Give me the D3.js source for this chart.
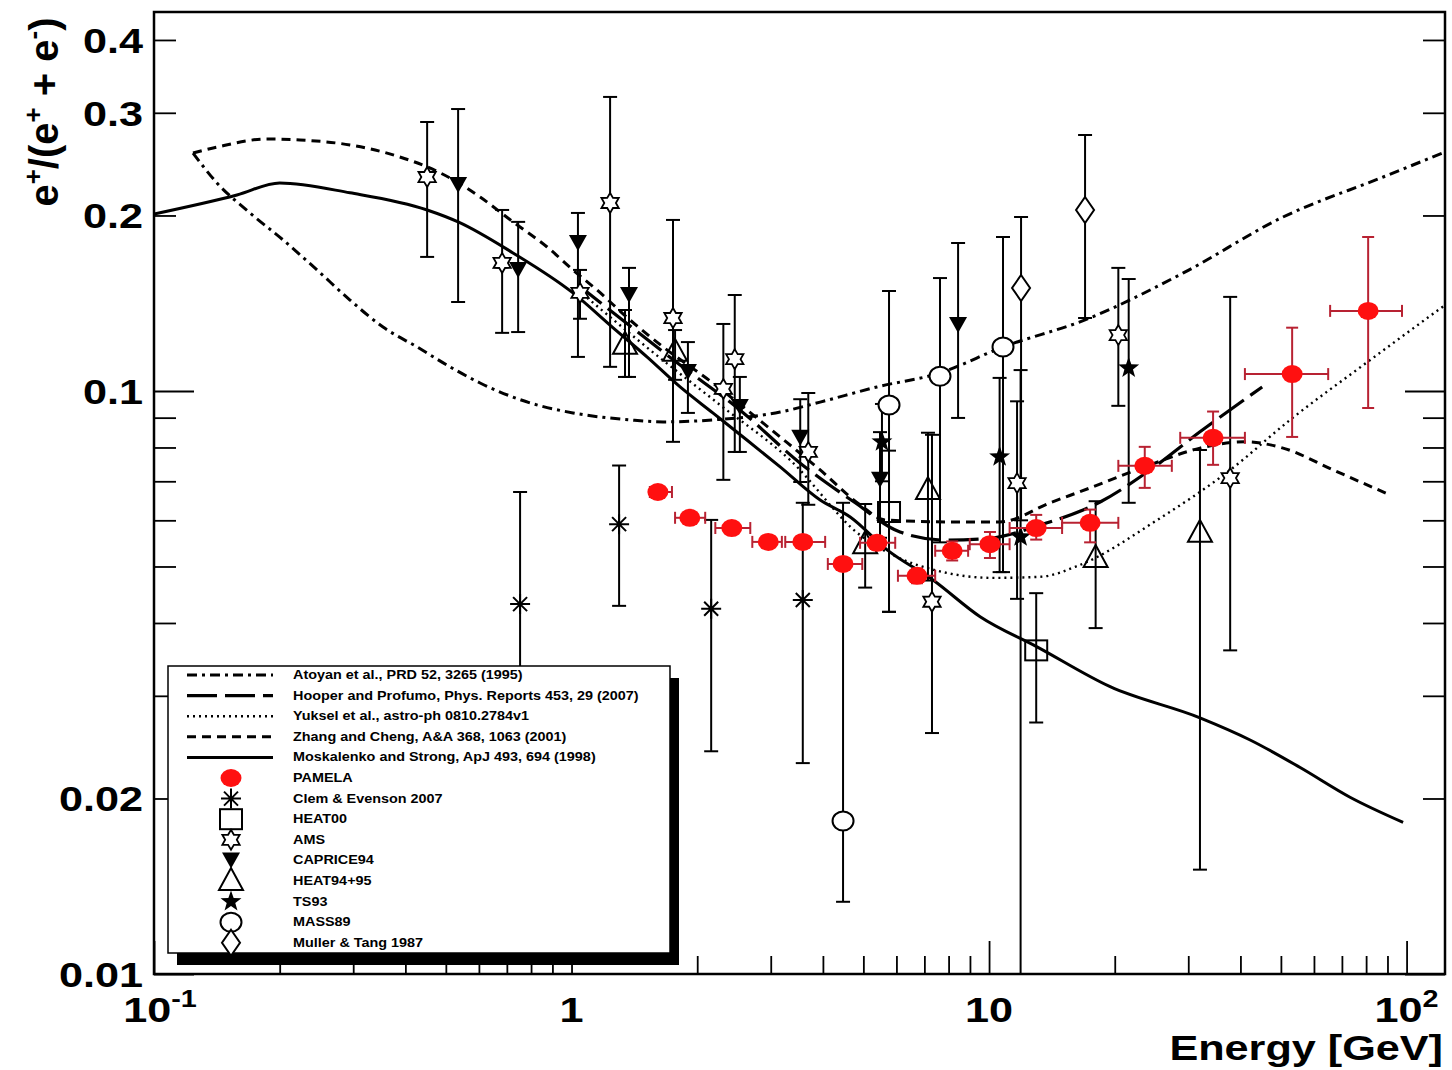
<!DOCTYPE html>
<html>
<head>
<meta charset="utf-8">
<script src="https://cdn.jsdelivr.net/npm/d3@7"></script>
<style>
  body { margin: 0; background: #fff; }
  text { font-family: "Liberation Sans", Arial, Helvetica, sans-serif; font-weight: bold; fill: #000; }
</style>
</head>
<body>
<script>
var w = 1452;
var h = 1070;
var plotL = 154, plotR = 1445, plotT = 12, plotB = 974;

// theory curves, [energy GeV, e+/(e+ + e-)]
var atoyan = [[0.124,0.2559],[0.1415,0.2274],[0.1698,0.202],[0.2037,0.1816],[0.2457,0.1613],[0.2947,0.1432],
  [0.3536,0.1287],[0.4266,0.119],[0.5117,0.11],[0.604,0.1032],[0.7955,0.0954],[1.008,0.0917],[1.38,0.0892],
  [1.657,0.0885],[2.18,0.0892],[3.16,0.092],[3.94,0.0957],[5.39,0.1016],[7.63,0.1074],[10.8,0.119],
  [16.98,0.1324],[29.2,0.1594],[50.6,0.1988],[87.9,0.2328],[123.6,0.257]];
var hooper = [[1.036,0.152],[1.306,0.1334],[1.82,0.1108],[2.53,0.0928],[3.53,0.0752],[4.78,0.0643],
  [6.12,0.0573],[7.85,0.0555],[10.05,0.0559],[13.25,0.0589],[18.45,0.0645],[24.3,0.0732],[32.0,0.0851],[45.1,0.1016]];
var yuksel = [[1.036,0.149],[1.542,0.1176],[2.27,0.0946],[3.34,0.0761],[4.91,0.0566],[5.89,0.0523],
  [7.76,0.0489],[10.2,0.0478],[13.25,0.048],[16.5,0.0503],[25.3,0.0601],[37.8,0.0732],[52.6,0.0892],
  [81.8,0.113],[123.6,0.1404]];
var zhang = [[0.124,0.2559],[0.1415,0.262],[0.1865,0.2705],[0.2237,0.2695],[0.2947,0.2642],[0.388,0.252],
  [0.451,0.2423],[0.5117,0.2319],[0.604,0.2151],[0.724,0.195],[0.874,0.1766],[1.008,0.1613],[1.151,0.149],
  [1.38,0.1324],[1.657,0.119],[2.18,0.1032],[2.63,0.0928],[3.16,0.0834],[3.94,0.0732],[4.91,0.0638],
  [5.63,0.0601],[8.52,0.0596],[10.6,0.0596],[14.0,0.0643],[17.46,0.0682],[24.3,0.0747],[32.0,0.0798],
  [41.0,0.0818],[50.6,0.0798],[66.7,0.0732],[91.3,0.0663]];
var moskalenko = [[0.1,0.2012],[0.158,0.2169],[0.2,0.2274],[0.2947,0.2187],[0.451,0.2044],[0.535,0.195],
  [0.724,0.1725],[1.008,0.1473],[1.258,0.1283],[1.516,0.1144],[1.82,0.1016],[2.18,0.0917],[2.63,0.0824],
  [3.16,0.0741],[3.94,0.065],[4.65,0.0608],[5.70,0.0534],[7.34,0.0474],[9.52,0.041],[13.03,0.0364],
  [19.5,0.0311],[32.0,0.0275],[42.2,0.0252],[55.6,0.0226],[73.2,0.0201],[98.1,0.0182]];

// measurements
var pamela = [
  {e:1.61, x0:1.54, x1:1.74, v:0.0671, lo:0.0660, hi:0.0682},
  {e:1.92, x0:1.77, x1:2.09, v:0.0606, lo:0.0596, hi:0.0616},
  {e:2.42, x0:2.21, x1:2.68, v:0.0582, lo:0.0572, hi:0.0592},
  {e:2.96, x0:2.71, x1:3.19, v:0.0551, lo:0.0541, hi:0.0561},
  {e:3.58, x0:3.25, x1:4.05, v:0.0551, lo:0.0540, hi:0.0562},
  {e:4.47, x0:4.11, x1:4.97, v:0.0505, lo:0.0494, hi:0.0516},
  {e:5.39, x0:4.91, x1:5.96, v:0.0549, lo:0.0535, hi:0.0563},
  {e:6.72, x0:6.05, x1:7.43, v:0.0482, lo:0.0468, hi:0.0496},
  {e:8.16, x0:7.43, x1:8.91, v:0.0532, lo:0.0512, hi:0.0552},
  {e:10.05, x0:8.99, x1:11.2, v:0.0546, lo:0.0517, hi:0.0573},
  {e:12.97, x0:11.2, x1:14.96, v:0.0582, lo:0.0556, hi:0.0613},
  {e:17.46, x0:14.96, x1:20.4, v:0.0594, lo:0.0550, hi:0.0626},
  {e:23.6, x0:20.4, x1:27.4, v:0.0744, lo:0.0682, hi:0.0802},
  {e:34.4, x0:28.7, x1:41.0, v:0.0831, lo:0.0747, hi:0.0922},
  {e:53.2, x0:41.0, x1:64.9, v:0.1069, lo:0.0834, hi:0.1284},
  {e:80.9, x0:65.6, x1:97.5, v:0.1372, lo:0.0935, hi:0.1837}
];
var clem = [
  {e:0.753, v:0.0431, lo:0.020, hi:0.0671},
  {e:1.30, v:0.0591, lo:0.0428, hi:0.0745},
  {e:2.16, v:0.0423, lo:0.0241, hi:0.0601},
  {e:3.58, v:0.0438, lo:0.0230, hi:0.0643}
];
var heat00 = [
  {e:5.76, v:0.0620, lo:0.0418, hi:0.0790},
  {e:12.97, v:0.0359, lo:0.0270, hi:0.0450}
];
var ams = [
  {e:0.451, v:0.2328, lo:0.1698, hi:0.2893},
  {e:0.682, v:0.1658, lo:0.1258, hi:0.2044},
  {e:1.048, v:0.1473, lo:0.1330, hi:0.1613},
  {e:1.237, v:0.2101, lo:0.1100, hi:0.3194},
  {e:1.75, v:0.1334, lo:0.0818, hi:0.1965},
  {e:2.31, v:0.1008, lo:0.0704, hi:0.1303},
  {e:2.46, v:0.1134, lo:0.0786, hi:0.1461},
  {e:3.69, v:0.0786, lo:0.0638, hi:0.0992},
  {e:7.30, v:0.0435, lo:0.0259, hi:0.0841},
  {e:11.67, v:0.0695, lo:0.0440, hi:0.0960},
  {e:20.4, v:0.1247, lo:0.0943, hi:0.1626},
  {e:37.8, v:0.0709, lo:0.0359, hi:0.1450}
];
var caprice = [
  {e:0.535, v:0.2256, lo:0.1421, hi:0.3045},
  {e:0.745, v:0.1613, lo:0.1262, hi:0.1950},
  {e:1.036, v:0.1794, lo:0.1144, hi:0.2020},
  {e:1.373, v:0.1461, lo:0.1057, hi:0.1626},
  {e:1.90, v:0.1078, lo:0.0917, hi:0.1213},
  {e:2.53, v:0.0939, lo:0.0786, hi:0.1057},
  {e:3.53, v:0.0831, lo:0.0698, hi:0.0968},
  {e:5.48, v:0.0704, lo:0.0560, hi:0.0850},
  {e:8.43, v:0.1298, lo:0.0899, hi:0.1794}
];
var heat94 = [
  {e:1.343, v:0.1200, lo:0.1057, hi:0.1377},
  {e:1.77, v:0.1167, lo:0.1045, hi:0.1272},
  {e:5.05, v:0.0546, lo:0.0460, hi:0.0640},
  {e:7.14, v:0.0676, lo:0.0473, hi:0.0848},
  {e:18.0, v:0.0517, lo:0.0392, hi:0.0647},
  {e:32.0, v:0.0571, lo:0.0151, hi:0.0792}
];
var ts93 = [
  {e:5.54, v:0.0818, lo:0.0700, hi:0.0950},
  {e:10.6, v:0.0771, lo:0.0489, hi:0.1053},
  {e:11.9, v:0.0562, lo:0.0050, hi:0.1086},
  {e:21.6, v:0.1095, lo:0.0643, hi:0.1556}
];
var mass89 = [
  {e:4.47, v:0.0183, lo:0.0133, hi:0.0643},
  {e:5.76, v:0.0946, lo:0.0418, hi:0.1484},
  {e:7.63, v:0.1060, lo:0.0550, hi:0.1562},
  {e:10.8, v:0.1190, lo:0.0489, hi:0.1837}
];
var muller = [
  {e:11.93, v:0.1502, lo:0.0600, hi:0.1988},
  {e:16.98, v:0.2044, lo:0.1334, hi:0.2748}
];

var yTickLabels = [0.01, 0.02, 0.1, 0.2, 0.3, 0.4];
var xTickLabels = [{v:0.1, t:"10", s:"-1"}, {v:1, t:"1", s:""}, {v:10, t:"10", s:""}, {v:100, t:"10", s:"2"}];
var curveLabels = ["Atoyan et al., PRD 52, 3265 (1995)",
  "Hooper and Profumo, Phys. Reports 453, 29 (2007)",
  "Yuksel et al., astro-ph 0810.2784v1",
  "Zhang and Cheng, A&A 368, 1063 (2001)",
  "Moskalenko and Strong, ApJ 493, 694 (1998)"];
var pointLabels = ["PAMELA", "Clem & Evenson 2007", "HEAT00", "AMS", "CAPRICE94",
  "HEAT94+95", "TS93", "MASS89", "Muller & Tang 1987"];

var svg = d3.select("body").append("svg")
  .attr("width", w)
  .attr("height", h);

svg.append("rect").attr("width", w).attr("height", h).attr("fill", "#fff");

var x = d3.scaleLog().domain([0.1, 123.6]).range([plotL, plotR]);
var y = d3.scaleLog().domain([0.01, 0.4467]).range([plotB, plotT]);

svg.append("clipPath").attr("id", "clip")
  .append("rect")
  .attr("x", plotL).attr("y", plotT)
  .attr("width", plotR - plotL).attr("height", plotB - plotT);

//ticks
function isDecade(t) {
  var l = Math.log10(t);
  return Math.abs(l - Math.round(l)) < 1e-6;
}
function tidy(g) {
  g.select(".domain").remove();
  g.selectAll("line").attr("stroke", "#000").attr("stroke-width", 1.8);
}
var xt = x.ticks();
var yt = y.ticks();

svg.append("g").attr("transform", "translate(0," + plotB + ")")
  .call(d3.axisBottom(x).tickValues(xt.filter(function(t){ return !isDecade(t); })).tickSize(-18).tickFormat(""))
  .call(tidy);
svg.append("g").attr("transform", "translate(0," + plotB + ")")
  .call(d3.axisBottom(x).tickValues(xt.filter(isDecade)).tickSize(-33).tickFormat(""))
  .call(tidy);
svg.append("g").attr("transform", "translate(" + plotL + ",0)")
  .call(d3.axisLeft(y).tickValues(yt.filter(function(t){ return !isDecade(t); })).tickSize(-22).tickFormat(""))
  .call(tidy);
svg.append("g").attr("transform", "translate(" + plotL + ",0)")
  .call(d3.axisLeft(y).tickValues(yt.filter(isDecade)).tickSize(-40).tickFormat(""))
  .call(tidy);
svg.append("g").attr("transform", "translate(" + plotR + ",0)")
  .call(d3.axisRight(y).tickValues(yt.filter(function(t){ return !isDecade(t); })).tickSize(-22).tickFormat(""))
  .call(tidy);
svg.append("g").attr("transform", "translate(" + plotR + ",0)")
  .call(d3.axisRight(y).tickValues(yt.filter(isDecade)).tickSize(-40).tickFormat(""))
  .call(tidy);

// tick labels, glyphs are a bit wider than normal in the original
svg.selectAll(".ylab")
  .data(yTickLabels)
  .enter()
  .append("text")
  .attr("transform", function(d){ return "translate(143," + (y(d) + 13) + ") scale(1.2,1)"; })
  .attr("text-anchor", "end")
  .attr("font-size", "36px")
  .text(function(d){ return String(d); });

var xl = svg.selectAll(".xlab")
  .data(xTickLabels)
  .enter()
  .append("text")
  .attr("transform", function(d){ return "translate(" + (x(d.v) + (d.s == "-1" ? 6 : 0)) + ",1022) scale(1.2,1)"; })
  .attr("text-anchor", "middle")
  .attr("font-size", "36px");
xl.append("tspan").text(function(d){ return d.t; });
xl.append("tspan").attr("font-size", "24px").attr("dy", -15).text(function(d){ return d.s; });

svg.append("text")
  .attr("transform", "translate(1443,1060) scale(1.2,1)")
  .attr("text-anchor", "end")
  .attr("font-size", "36px")
  .text("Energy [GeV]");

var yt1 = svg.append("text")
  .attr("transform", "translate(58,112) rotate(-90)")
  .attr("text-anchor", "middle")
  .attr("font-size", "40px");
yt1.append("tspan").text("e");
yt1.append("tspan").attr("font-size", "26px").attr("dy", -16).text("+");
yt1.append("tspan").attr("dy", 16).text("/(e");
yt1.append("tspan").attr("font-size", "26px").attr("dy", -16).text("+");
yt1.append("tspan").attr("dy", 16).text(" + e");
yt1.append("tspan").attr("font-size", "26px").attr("dy", -16).text("-");
yt1.append("tspan").attr("dy", 16).text(")");

var plot = svg.append("g").attr("clip-path", "url(#clip)");

// curves
var line = d3.line()
  .x(function(d){ return x(d[0]); })
  .y(function(d){ return y(d[1]); })
  .curve(d3.curveMonotoneX);

var curves = [
  {data: atoyan, dash: "10,5,3,5", sw: 3},
  {data: hooper, dash: "30,8", sw: 3.2},
  {data: yuksel, dash: "2,4", sw: 2.4},
  {data: zhang, dash: "9,6", sw: 3},
  {data: moskalenko, dash: null, sw: 3}
];
curves.forEach(function(c){
  plot.append("path")
    .datum(c.data)
    .attr("d", line)
    .attr("fill", "none")
    .attr("stroke", "#000")
    .attr("stroke-width", c.sw)
    .attr("stroke-dasharray", c.dash);
});

// marker shapes
function starPath(n, R, r) {
  var p = d3.path();
  for (var i = 0; i < 2 * n; i++) {
    var a = -Math.PI / 2 + i * Math.PI / n;
    var rr = (i % 2 == 0) ? R : r;
    if (i == 0) p.moveTo(rr * Math.cos(a), rr * Math.sin(a));
    else p.lineTo(rr * Math.cos(a), rr * Math.sin(a));
  }
  p.closePath();
  return p.toString();
}
function marker(g, type, cx, cy) {
  var m = g.append("g").attr("transform", "translate(" + cx + "," + cy + ")");
  if (type == "pamela") {
    m.append("ellipse").attr("rx", 10.5).attr("ry", 9).attr("fill", "#ff1010");
  } else if (type == "asterisk") {
    m.append("path").attr("d", "M-10,0H10M0,-10V10M-7,-7L7,7M-7,7L7,-7")
      .attr("stroke", "#000").attr("stroke-width", 2);
  } else if (type == "square") {
    m.append("rect").attr("x", -11).attr("y", -10).attr("width", 22).attr("height", 20)
      .attr("fill", "none").attr("stroke", "#000").attr("stroke-width", 2);
  } else if (type == "hexstar") {
    m.append("path").attr("d", starPath(6, 10, 5.8))
      .attr("fill", "#fff").attr("stroke", "#000").attr("stroke-width", 1.8);
  } else if (type == "tridown") {
    m.append("path").attr("d", "M-9,-8L9,-8L0,8Z").attr("fill", "#000");
  } else if (type == "triup") {
    m.append("path").attr("d", "M0,-13L12,9L-12,9Z")
      .attr("fill", "none").attr("stroke", "#000").attr("stroke-width", 2);
  } else if (type == "star5") {
    m.append("path").attr("d", starPath(5, 11, 4.5)).attr("fill", "#000");
  } else if (type == "circle") {
    m.append("ellipse").attr("rx", 10.5).attr("ry", 9.5)
      .attr("fill", "#fff").attr("stroke", "#000").attr("stroke-width", 2);
  } else if (type == "diamond") {
    m.append("path").attr("d", "M0,-13L9,0L0,13L-9,0Z")
      .attr("fill", "#fff").attr("stroke", "#000").attr("stroke-width", 2);
  }
}

var sets = [
  {data: clem, type: "asterisk"},
  {data: heat00, type: "square"},
  {data: ams, type: "hexstar"},
  {data: caprice, type: "tridown"},
  {data: heat94, type: "triup"},
  {data: ts93, type: "star5"},
  {data: mass89, type: "circle"},
  {data: muller, type: "diamond"}
];

// vertical error bars with caps
sets.forEach(function(s){
  var g = plot.append("g").attr("stroke", "#000").attr("stroke-width", 2);
  g.selectAll("line.v").data(s.data).enter().append("line")
    .attr("x1", function(d){ return x(d.e); })
    .attr("x2", function(d){ return x(d.e); })
    .attr("y1", function(d){ return y(d.lo); })
    .attr("y2", function(d){ return y(d.hi); });
  g.selectAll("line.hc").data(s.data).enter().append("line")
    .attr("x1", function(d){ return x(d.e) - 7; })
    .attr("x2", function(d){ return x(d.e) + 7; })
    .attr("y1", function(d){ return y(d.hi); })
    .attr("y2", function(d){ return y(d.hi); });
  g.selectAll("line.lc").data(s.data).enter().append("line")
    .attr("x1", function(d){ return x(d.e) - 7; })
    .attr("x2", function(d){ return x(d.e) + 7; })
    .attr("y1", function(d){ return y(d.lo); })
    .attr("y2", function(d){ return y(d.lo); });
});
sets.forEach(function(s){
  s.data.forEach(function(d){ marker(plot, s.type, x(d.e), y(d.v)); });
});

// PAMELA with both error bars
var pg = plot.append("g").attr("stroke", "#b82232").attr("stroke-width", 2);
pamela.forEach(function(d){
  var cx = x(d.e), cy = y(d.v);
  pg.append("line").attr("x1", x(d.x0)).attr("x2", x(d.x1)).attr("y1", cy).attr("y2", cy);
  pg.append("line").attr("x1", cx).attr("x2", cx).attr("y1", y(d.lo)).attr("y2", y(d.hi));
  pg.append("line").attr("x1", x(d.x0)).attr("x2", x(d.x0)).attr("y1", cy - 6).attr("y2", cy + 6);
  pg.append("line").attr("x1", x(d.x1)).attr("x2", x(d.x1)).attr("y1", cy - 6).attr("y2", cy + 6);
  pg.append("line").attr("x1", cx - 6).attr("x2", cx + 6).attr("y1", y(d.lo)).attr("y2", y(d.lo));
  pg.append("line").attr("x1", cx - 6).attr("x2", cx + 6).attr("y1", y(d.hi)).attr("y2", y(d.hi));
});
pamela.forEach(function(d){ marker(plot, "pamela", x(d.e), y(d.v)); });

// frame
svg.append("rect")
  .attr("x", plotL).attr("y", plotT)
  .attr("width", plotR - plotL).attr("height", plotB - plotT)
  .attr("fill", "none").attr("stroke", "#000").attr("stroke-width", 2.5);

// legend
var lx = 168, ly = 666, lw = 502, lh = 287, row = 20.6;
svg.append("rect").attr("x", lx + 9).attr("y", ly + 12).attr("width", lw).attr("height", lh).attr("fill", "#000");
svg.append("rect").attr("x", lx).attr("y", ly).attr("width", lw).attr("height", lh)
  .attr("fill", "#fff").attr("stroke", "#000").attr("stroke-width", 1.5);

curves.forEach(function(c, i){
  var ry = ly + 9 + i * row;
  svg.append("line").attr("x1", 187).attr("x2", 273).attr("y1", ry).attr("y2", ry)
    .attr("stroke", "#000").attr("stroke-width", c.sw).attr("stroke-dasharray", c.dash);
  svg.append("text").attr("transform", "translate(293," + (ry + 4) + ") scale(1.2,1)")
    .attr("font-size", "12px").text(curveLabels[i]);
});
var ptypes = ["pamela"].concat(sets.map(function(s){ return s.type; }));
ptypes.forEach(function(t, j){
  var ry = ly + 9 + (j + 5) * row;
  marker(svg, t, 231, ry);
  svg.append("text").attr("transform", "translate(293," + (ry + 4) + ") scale(1.2,1)")
    .attr("font-size", "12px").text(pointLabels[j]);
});
</script>
</body>
</html>
